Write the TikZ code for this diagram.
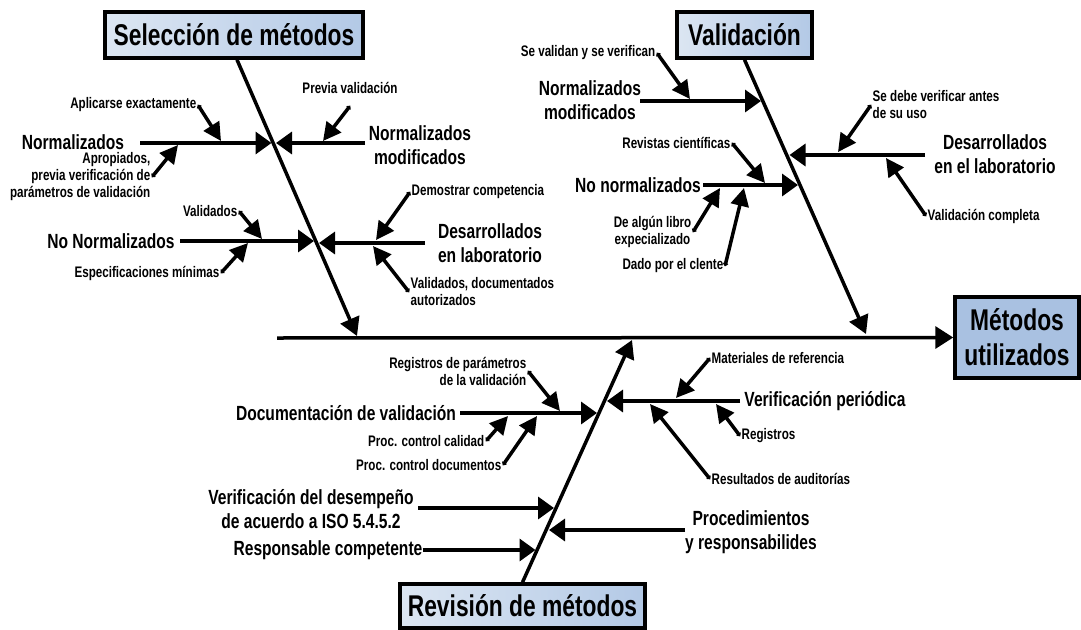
\documentclass[tikz,border=0pt]{standalone}
\usepackage{fontspec}
\setmainfont{Liberation Sans}[FakeStretch=0.76]
\usetikzlibrary{arrows.meta}
\definecolor{boxL}{HTML}{DCE6F2}
\definecolor{boxR}{HTML}{B3C9E6}
\definecolor{boxM}{HTML}{A9C1E1}
\begin{document}
\begin{tikzpicture}[x=1pt,y=-1pt,
  lbl/.style={font=\bfseries\fontsize{20.5}{24}\selectfont, inner sep=0pt, align=center},
  sm/.style={font=\bfseries\fontsize{15.3}{17}\selectfont, inner sep=1.5pt},
  ttl/.style={font=\bfseries\fontsize{30}{35}\selectfont, draw=black, line width=3.5pt, left color=boxL, right color=boxR, inner sep=0pt, align=center},
  branch/.style={line width=3.5pt, -{Triangle[length=16pt,width=22pt]}},
  bone/.style={line width=3.5pt, -{Triangle[length=18pt,width=20pt]}},
  twig/.style={line width=3.5pt, {Circle[length=4.5pt]}-{Triangle[length=18pt,width=18pt]}},
]
\useasboundingbox (0,0) rectangle (1081,629);
\fill[white] (0,0) rectangle (1081,629);

% boxes
\node[ttl, minimum width=258pt, minimum height=46pt] (B1) at (234,35) {Selección de métodos};
\node[ttl, minimum width=135pt, minimum height=46pt] (B2) at (744.5,35) {Validación};
\node[ttl, minimum width=124pt, minimum height=81pt, left color=boxM, right color=boxM] (B3) at (1017,337.5) {Métodos\\utilizados};
\node[ttl, minimum width=245pt, minimum height=44pt] (B4) at (522.5,606) {Revisión de métodos};

% spine and bones
\coordinate (sp0) at (277,338);
\coordinate (b1t) at (357,336);
\coordinate (b2t) at (866,334);
\coordinate (b4t) at (632,340);
\draw[line width=3.5pt, -{Triangle[length=18pt,width=22pt]}] (sp0) -- (B3.west);
\draw[bone] ([xshift=3pt]B1.south) -- (b1t);
\draw[bone] (B2.south) -- (b2t);
\draw[bone] (B4.north) -- (b4t);

% ---- Seleccion de metodos
\node[lbl] (N1) at (73,142) {Normalizados};
\node[lbl] (N2) at (420,145) {Normalizados\\modificados};
\node[lbl] (N3) at (111,241) {No Normalizados};
\node[lbl] (N4) at (490,243) {Desarrollados\\en laboratorio};
\coordinate (n1a) at (140,143); \coordinate (n1b) at (271.5,143);
\coordinate (n2a) at (365,143); \coordinate (n2b) at (276,143);
\coordinate (n3a) at (180,241); \coordinate (n3b) at (314,241);
\coordinate (n4a) at (425,243); \coordinate (n4b) at (319,243);
\draw[branch] (n1a) -- (n1b);
\draw[branch] (n2a) -- (n2b);
\draw[branch] (n3a) -- (n3b);
\draw[branch] (n4a) -- (n4b);

\node[sm, anchor=east] (s1) at (198,105) {Aplicarse exactamente};
\node[sm, anchor=east, align=right] (s2) at (152,177) {Apropiados,\\previa verificación de\\parámetros de validación};
\node[sm] (s3) at (350,88) {Previa validación};
\node[sm, anchor=east] (s4) at (239,211) {Validados};
\node[sm, anchor=east] (s5) at (221,273) {Especificaciones mínimas};
\node[sm, anchor=west] (s6) at (410,192) {Demostrar competencia};
\node[sm, anchor=west, align=left] (s7) at (409,292) {Validados, documentados\\autorizados};
\coordinate (s1t) at (221,141);
\coordinate (s2t) at (178,145);
\coordinate (s3a) at (350,106); \coordinate (s3t) at (323,141);
\coordinate (s4t) at (262,239);
\coordinate (s5t) at (248,243);
\coordinate (s6t) at (376,240);
\coordinate (s7t) at (373,246);
\draw[twig] (s1.east) -- (s1t);
\draw[twig] (s2.east) -- (s2t);
\draw[twig] (s3a) -- (s3t);
\draw[twig] (s4.east) -- (s4t);
\draw[twig] (s5.east) -- (s5t);
\draw[twig] (s6.west) -- (s6t);
\draw[twig] (s7.west) -- (s7t);

% ---- Validacion
\node[lbl] (V1) at (590,100) {Normalizados\\modificados};
\node[lbl] (V2) at (995,154) {Desarrollados\\en el laboratorio};
\node[lbl] (V3) at (638,185) {No normalizados};
\coordinate (v1a) at (640,101); \coordinate (v1b) at (761,101);
\coordinate (v2a) at (925,155); \coordinate (v2b) at (789.5,155);
\coordinate (v3a) at (703,185); \coordinate (v3b) at (798,185);
\draw[branch] (v1a) -- (v1b);
\draw[branch] (v2a) -- (v2b);
\draw[branch] (v3a) -- (v3b);

\node[sm, anchor=east] (v1) at (657,53) {Se validan y se verifican};
\node[sm, anchor=west, align=left] (v2) at (871,105) {Se debe verificar antes\\de su uso};
\node[sm, anchor=east] (v3) at (732,143) {Revistas científicas};
\node[sm, anchor=east, align=center] (v4) at (693,232) {De algún libro\\expecializado};
\node[sm, anchor=east] (v5) at (725,266) {Dado por el clente};
\node[sm, anchor=west] (v6) at (926,216) {Validación completa};
\coordinate (v1t) at (690,99);
\coordinate (v2t) at (838,152);
\coordinate (v3t) at (765,183);
\coordinate (v4t) at (720,188);
\coordinate (v5t) at (744,188);
\coordinate (v6t) at (886,158);
\draw[twig] (v1.east) -- (v1t);
\draw[twig] (v2.west) -- (v2t);
\draw[twig] (v3.east) -- (v3t);
\draw[twig] (v4.east) -- (v4t);
\draw[twig] (v5.east) -- (v5t);
\draw[twig] (v6.west) -- (v6t);

% ---- Revision de metodos
\node[lbl] (R1) at (346,413) {Documentación de validación};
\node[lbl] (R2) at (825,401) {Verificación periódica};
\node[lbl] (R3) at (311,509) {Verificación del desempeño\\de acuerdo a ISO 5.4.5.2};
\node[lbl] (R4) at (751,532) {Procedimientos\\y responsabilides};
\node[lbl] (R5) at (328,550) {Responsable competente};
\coordinate (r1a) at (460,413); \coordinate (r1b) at (597,413);
\coordinate (r2a) at (740,401); \coordinate (r2b) at (607,401);
\coordinate (r3a) at (418,508); \coordinate (r3b) at (554,508);
\coordinate (r4a) at (685,530); \coordinate (r4b) at (549,530);
\coordinate (r5b) at (535.5,550);
\draw[branch] (r1a) -- (r1b);
\draw[branch] (r2a) -- (r2b);
\draw[branch] (r3a) -- (r3b);
\draw[branch] (r4a) -- (r4b);
\draw[branch] (R5.east) -- (r5b);

\node[sm, anchor=east, align=right] (r1) at (528,371) {Registros de parámetros\\de la validación};
\node[sm, anchor=east] (r2) at (486,441) {Proc. control calidad};
\node[sm, anchor=east] (r3) at (503,465) {Proc. control documentos};
\node[sm, anchor=west] (r4) at (710,358) {Materiales de referencia};
\node[sm, anchor=west] (r5) at (740,436) {Registros};
\node[sm, anchor=west] (r6) at (710,479) {Resultados de auditorías};
\coordinate (r1t) at (560,411);
\coordinate (r2t) at (508,416);
\coordinate (r3t) at (537,416);
\coordinate (r4t) at (676,398);
\coordinate (r5t) at (716,404);
\coordinate (r6t) at (650,404);
\draw[twig] (r1.east) -- (r1t);
\draw[twig] (r2.east) -- (r2t);
\draw[twig] (r3.east) -- (r3t);
\draw[twig] (r4.west) -- (r4t);
\draw[twig] (r5.west) -- (r5t);
\draw[twig] (r6.west) -- (r6t);
\end{tikzpicture}
\end{document}
